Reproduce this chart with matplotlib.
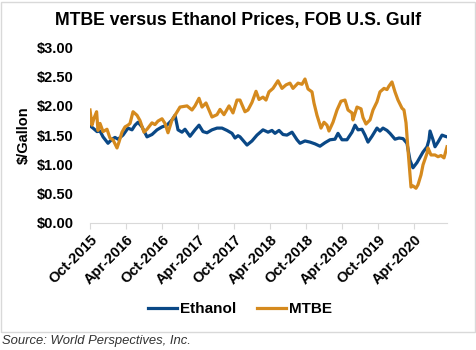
import matplotlib.pyplot as plt
from matplotlib.patches import Rectangle

plt.rcParams['font.family'] = ['Liberation Sans', 'DejaVu Sans']

# months since Oct-2015 and price in $/gallon
mtbe_month = [0.0, 0.33, 0.67, 1.1, 1.33, 1.67, 2.17, 2.83, 3.33, 3.83, 4.5, 4.83, 5.33, 5.83,
              6.33, 6.67, 7.17, 7.83, 8.33, 9.0, 9.5, 10.33, 10.83, 11.33, 12.0, 12.5, 13.0,
              13.67, 14.17, 15.0, 16.17, 17.0, 17.5, 18.17, 18.67, 19.33, 19.83, 20.33, 21.17,
              21.67, 22.33, 23.17, 23.83, 24.5, 25.0, 25.83, 26.33, 27.0, 27.67, 28.17, 28.83,
              29.33, 29.83, 30.5, 31.33, 32.0, 32.67, 33.33, 33.83, 34.67, 35.33, 35.83, 36.33,
              37.0, 37.33, 37.83, 38.5, 39.0, 39.5, 39.83, 40.5, 41.17, 41.83, 42.5, 43.0, 43.67,
              43.83, 44.5, 45.17, 45.5, 46.0, 46.67, 47.17, 47.83, 48.33, 49.0, 49.5, 49.83,
              50.33, 50.83, 51.33, 52.0, 52.33, 52.67, 53.0, 53.5, 53.83, 54.33, 54.67, 55.17,
              55.5, 56.17, 56.33, 56.83, 57.5, 58.0, 58.5, 59.0, 59.5]
mtbe_price = [1.93, 1.67, 1.79, 1.90, 1.58, 1.70, 1.56, 1.60, 1.45, 1.42, 1.28, 1.38, 1.55, 1.64,
              1.67, 1.70, 1.90, 1.84, 1.75, 1.55, 1.60, 1.71, 1.68, 1.74, 1.78, 1.70, 1.54,
              1.76, 1.84, 1.98, 2.00, 1.93, 2.00, 2.13, 1.98, 2.05, 1.93, 1.81, 1.85,
              1.94, 1.85, 2.00, 1.88, 2.10, 2.10, 1.90, 1.93, 2.06, 2.25, 2.11, 2.15,
              2.10, 2.24, 2.30, 2.43, 2.30, 2.36, 2.39, 2.30, 2.39, 2.37, 2.46, 2.29,
              2.24, 2.05, 1.84, 1.62, 1.72, 1.67, 1.57, 1.72, 1.93, 2.08, 2.10, 1.93, 1.88,
              1.76, 1.98, 1.95, 1.80, 1.69, 1.76, 1.93, 2.07, 2.24, 2.30, 2.28, 2.34,
              2.41, 2.24, 2.10, 1.96, 1.93, 1.71, 1.25, 0.61, 0.63, 0.59, 0.65, 0.82,
              0.99, 1.19, 1.28, 1.16, 1.16, 1.13, 1.15, 1.11, 1.30]

ethanol_month = [0, 0.5, 1.17, 1.67, 2.17, 3.0, 3.67, 4.17, 4.67, 5.5, 6.33, 7.0, 7.5, 8.0, 8.67,
                 9.5, 10.33, 11.17, 12.0, 12.83, 13.67, 14.17, 14.67, 15.33, 15.83, 16.67, 17.5,
                 18.17, 18.83, 19.5, 20.33, 21.17, 22.0, 22.83, 23.67, 24.17, 24.67, 25.0, 26.17,
                 27.0, 27.83, 28.83, 29.67, 30.33, 30.83, 31.5, 32.17, 32.83, 33.67, 34.5, 35.0,
                 35.83, 36.67, 37.5, 38.33, 39.17, 40.0, 40.83, 41.33, 42.0, 42.83, 43.67, 44.17,
                 44.67, 45.33, 45.83, 46.33, 47.0, 47.83, 48.33, 48.83, 49.5, 50.0, 50.83, 51.5,
                 52.17, 52.83, 53.33, 53.83, 54.5, 55.0, 55.5, 56.17, 56.5, 56.67, 57.17, 57.5,
                 58.0, 58.67, 59.17, 59.5]
ethanol_price = [1.66, 1.62, 1.56, 1.57, 1.47, 1.36, 1.43, 1.46, 1.43, 1.50, 1.62, 1.59, 1.67, 1.72, 1.64,
                 1.47, 1.51, 1.59, 1.64, 1.67, 1.76, 1.84, 1.59, 1.55, 1.60, 1.48, 1.59,
                 1.67, 1.56, 1.54, 1.59, 1.62, 1.62, 1.58, 1.53, 1.45, 1.49, 1.47, 1.33,
                 1.40, 1.50, 1.59, 1.55, 1.58, 1.53, 1.58, 1.51, 1.50, 1.55, 1.42, 1.36,
                 1.40, 1.38, 1.35, 1.31, 1.37, 1.42, 1.43, 1.53, 1.42, 1.42, 1.55, 1.67,
                 1.59, 1.60, 1.50, 1.38, 1.48, 1.62, 1.57, 1.62, 1.58, 1.53, 1.43, 1.45,
                 1.44, 1.36, 1.07, 0.94, 1.03, 1.12, 1.21, 1.30, 1.42, 1.57, 1.42, 1.30,
                 1.38, 1.50, 1.48, 1.47]

tick_months = [0, 6, 12, 18, 24, 30, 36, 42, 48, 54]
tick_labels = ['Oct-2015', 'Apr-2016', 'Oct-2016', 'Apr-2017', 'Oct-2017',
               'Apr-2018', 'Oct-2018', 'Apr-2019', 'Oct-2019', 'Apr-2020']
y_ticks = [0, 0.5, 1.0, 1.5, 2.0, 2.5, 3.0]

fig = plt.figure(figsize=(4.77, 3.5), dpi=100)
ax = fig.add_axes([90 / 477, 1 - 222.7 / 350, 357 / 477, 175.2 / 350])

# light grey frame around the chart
fig.patches.append(Rectangle((1 / 477, 1 - 332 / 350), 474 / 477, 330 / 350,
                             transform=fig.transFigure, fill=False,
                             edgecolor='#d9d9d9', linewidth=1))

ax.plot(ethanol_month, ethanol_price, color='#0a4886', linewidth=2.3, label='Ethanol')
ax.plot(mtbe_month, mtbe_price, color='#d58a1e', linewidth=2.3, label='MTBE')

ax.set_xlim(0, 59.5)
ax.set_ylim(0, 3)
ax.set_yticks(y_ticks)
ax.set_yticklabels([f'${v:.2f}' for v in y_ticks], fontsize=10.5, fontweight='bold')
ax.set_xticks(tick_months)
ax.set_xticklabels(tick_labels, rotation=45, ha='right', rotation_mode='anchor',
                   fontsize=10.5, fontweight='bold')
ax.tick_params(axis='y', length=0, pad=12)
ax.tick_params(axis='x', length=4, color='#d9d9d9', pad=3)
for side in ['top', 'right', 'left']:
    ax.spines[side].set_visible(False)
ax.spines['bottom'].set_color('#d9d9d9')

ax.set_ylabel('$/Gallon', fontsize=10.5, fontweight='bold', labelpad=4)

fig.text(0.5, 1 - 20 / 350, 'MTBE versus Ethanol Prices, FOB U.S. Gulf',
         ha='center', va='center', fontsize=12.7, fontweight='bold')

fig.legend(loc='center', bbox_to_anchor=(240 / 477, 1 - 309 / 350), ncol=2, frameon=False,
           prop={'size': 11, 'weight': 'bold'}, handlelength=1.9, columnspacing=1.4,
           handletextpad=0.15)

fig.text(2 / 477, 1 - 341 / 350, 'Source: World Perspectives, Inc.', ha='left', va='center',
         fontsize=9.4, style='italic', color='#333333')

fig.savefig('out.png', dpi=100)
